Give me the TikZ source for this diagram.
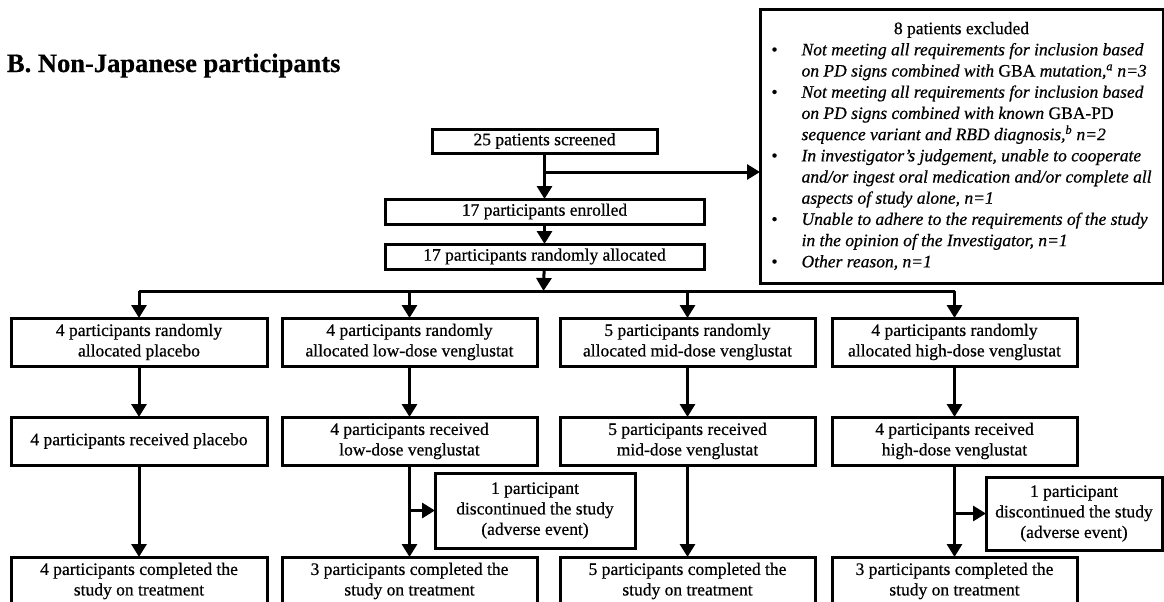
\documentclass[tikz,border=0pt]{standalone}
\usepackage{fontspec}
\setmainfont{Liberation Serif}[FakeBold=0.6]
\usetikzlibrary{arrows.meta,positioning}

\begin{document}
\begin{tikzpicture}[x=1pt, y=-1pt,
  every node/.style = {font=\fontsize{17.5}{20.5}\selectfont, align=center, inner sep=0pt, outer sep=0pt},
  box/.style = {draw, line width=3pt, minimum width=255pt, minimum height=48pt},
  wide/.style = {box, minimum width=319pt, minimum height=25pt},
  arr/.style = {-{Triangle[length=13pt,width=15pt]}, line width=3pt},
  link/.style = {line width=3pt},
]
\useasboundingbox (0,0) rectangle (1164,602);
\clip (0,0) rectangle (1164,602);

\node[anchor=base west, font=\fontsize{26.5}{30}\selectfont\bfseries] (title) at (7,72) {B. Non-Japanese participants};

% screening and allocation
\node[box, minimum width=225pt, minimum height=24pt] (screen) at (544.5,141) {25 patients screened};
\node[wide, below=46pt of screen] (enrol) {17 participants enrolled};
\node[wide, below=20pt of enrol] (alloc) {17 participants randomly allocated};
\node[box, minimum width=403pt, minimum height=273pt, font=\fontsize{17.5}{21.2}\selectfont] (excl) at (961.5,146.5) {%
  \begin{tabular}{@{}c@{\hspace{24pt}}l@{}}
  \multicolumn{2}{c}{8 patients excluded}\\
  \textbullet & \textit{Not meeting all requirements for inclusion based}\\
   & \textit{on PD signs combined with} GBA \textit{mutation,\textsuperscript{a} n=3}\\
  \textbullet & \textit{Not meeting all requirements for inclusion based}\\
   & \textit{on PD signs combined with known} GBA-PD\\
   & \textit{sequence variant and RBD diagnosis,\textsuperscript{b} n=2}\\
  \textbullet & \textit{In investigator’s judgement, unable to cooperate}\\
   & \textit{and/or ingest oral medication and/or complete all}\\
   & \textit{aspects of study alone, n=1}\\
  \textbullet & \textit{Unable to adhere to the requirements of the study}\\
   & \textit{in the opinion of the Investigator, n=1}\\
  \textbullet & \textit{Other reason, n=1}
  \end{tabular}};

% randomised arms
\node[box, minimum width=256pt] (pla1) at (139,342) {4 participants randomly\\allocated placebo};
\node[box, right=15pt of pla1] (low1) {4 participants randomly\\allocated low-dose venglustat};
\node[box, right=23pt of low1] (mid1) {5 participants randomly\\allocated mid-dose venglustat};
\node[box, minimum width=245pt, right=17pt of mid1] (high1) {4 participants randomly\\allocated high-dose venglustat};

\node[box, minimum width=256pt, below=51pt of pla1] (pla2) {4 participants received placebo};
\node[box, below=51pt of low1] (low2) {4 participants received\\low-dose venglustat};
\node[box, below=51pt of mid1] (mid2) {5 participants received\\mid-dose venglustat};
\node[box, minimum width=245pt, below=51pt of high1] (high2) {4 participants received\\high-dose venglustat};

\node[box, minimum width=256pt, below=92pt of pla2] (pla3) {4 participants completed the\\study on treatment};
\node[box, below=92pt of low2] (low3) {3 participants completed the\\study on treatment};
\node[box, below=92pt of mid2] (mid3) {5 participants completed the\\study on treatment};
\node[box, minimum width=245pt, below=92pt of high2] (high3) {3 participants completed the\\study on treatment};

% discontinuations
\node[box, minimum width=200pt, minimum height=75pt] (disc2) at (535,510.5) {1 participant\\discontinued the study\\(adverse event)};
\node[box, minimum width=176pt, minimum height=73pt] (disc4) at (1074,513.5) {1 participant\\discontinued the study\\(adverse event)};

\coordinate (split) at (544.5,172);
\coordinate (fan) at (543.5,291);

\draw[arr] (screen) -- (enrol);
\draw[arr] (split) -- (split -| excl.west);
\draw[arr] (enrol) -- (alloc);
\draw[arr] (alloc) -- (fan);
\draw[link] (fan -| pla1) -- (fan -| high1);
\foreach \n in {pla1,low1,mid1,high1}
  \draw[arr] (fan -| \n) -- (\n);
\foreach \n in {pla,low,mid,high} {
  \draw[arr] (\n1) -- (\n2);
  \draw[arr] (\n2) -- (\n3);
}
\draw[arr] (low2 |- disc2) -- (disc2);
\draw[arr] (high2 |- disc4) -- (disc4);
\end{tikzpicture}
\end{document}
